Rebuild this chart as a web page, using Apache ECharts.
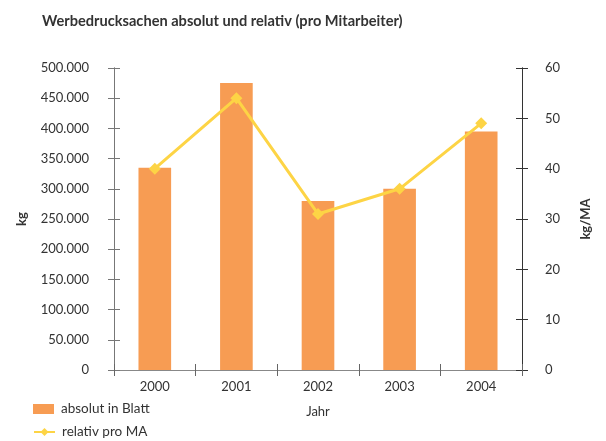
<!DOCTYPE html>
<html><head><meta charset="utf-8">
<script src="https://cdn.jsdelivr.net/npm/echarts@6/dist/echarts.min.js"></script>
<style>html,body{margin:0;padding:0;background:#fff}#c{width:606px;height:441px}</style>
</head><body><div id="c"></div>
<script>
const years = ['2000','2001','2002','2003','2004'];
const absolutValues = [335000, 475000, 280000, 300000, 395000];
const relativValues = [40, 54, 31, 36, 49];
const leftTicks = [0, 50000, 100000, 150000, 200000, 250000, 300000, 350000, 400000, 450000, 500000];
const rightTicks = [0, 10, 20, 30, 40, 50, 60];

const FONT = 'Lato';
const fmt = v => String(v).replace(/\B(?=(\d{3})+(?!\d))/g, '.');
const chart = echarts.init(document.getElementById('c'));
const baseY = (pos, max, interval, color, inside, extra) => Object.assign({
  type: 'value', position: pos, min: 0, max: max, interval: interval, offset: 0,
  axisLine: {show: true, lineStyle: {color: color, width: 1}},
  axisTick: {show: true, inside: inside, length: 6, lineStyle: {color: color}},
  splitLine: {show: false}
}, extra);
const legendBase = {orient: 'horizontal', left: 33, padding: 0, itemWidth: 21, itemHeight: 10, itemGap: 6,
  textStyle: {fontFamily: FONT, fontSize: 13.5, color: '#333', padding: [0, 0, 0, 2]}};
chart.setOption({
  animation: false,
  textStyle: {fontFamily: FONT},
  title: {text: 'Werbedrucksachen absolut und relativ (pro Mitarbeiter)', left: 37, top: 9,
    textStyle: {fontFamily: FONT, fontSize: 14.6, fontWeight: 'bold', color: '#333'}},
  grid: {left: 114, right: 84, top: 68, bottom: 71},
  legend: [
    Object.assign({}, legendBase, {top: 402, data: [{name: 'absolut in Blatt', icon: 'rect'}]}),
    Object.assign({}, legendBase, {top: 425, data: [{name: 'relativ pro MA'}]})
  ],
  xAxis: [{
    type: 'category', data: years, name: 'Jahr', nameLocation: 'middle', nameGap: 35,
    nameTextStyle: {fontFamily: FONT, fontSize: 13, color: '#333'},
    axisLine: {lineStyle: {color: '#888'}},
    axisTick: {show: true, length: 6, lineStyle: {color: '#666'}},
    axisLabel: {fontFamily: FONT, fontSize: 13, color: '#333', margin: 10}
  }, {
    type: 'category', data: years, position: 'bottom', offset: 0,
    axisLine: {show: false}, axisLabel: {show: false},
    axisTick: {show: true, inside: true, length: 6, lineStyle: {color: '#666'}}
  }],
  yAxis: [
    baseY('left', 500000, 50000, '#777', false, {
      name: 'kg', nameLocation: 'middle', nameGap: 86, nameRotate: 90,
      nameTextStyle: {fontFamily: FONT, fontSize: 13, fontWeight: 'bold', color: '#333'},
      axisLabel: {fontFamily: FONT, fontSize: 13, color: '#333', margin: 25, formatter: fmt}}),
    baseY('right', 60, 10, '#333', false, {
      name: 'kg/MA', nameLocation: 'middle', nameGap: 57, nameRotate: 90,
      nameTextStyle: {fontFamily: FONT, fontSize: 13, fontWeight: 'bold', color: '#333'},
      axisLabel: {fontFamily: FONT, fontSize: 13, color: '#333', margin: 23}}),
    baseY('left', 500000, 50000, '#777', true, {axisLabel: {show: false}}),
    baseY('right', 60, 10, '#333', true, {axisLabel: {show: false}})
  ],
  series: [{
    name: 'absolut in Blatt', type: 'bar', data: absolutValues, yAxisIndex: 0, barWidth: '40%',
    itemStyle: {color: '#F79C53'}
  }, {
    name: 'relativ pro MA', type: 'line', data: relativValues, yAxisIndex: 1,
    symbol: 'diamond', symbolSize: 12, lineStyle: {color: '#FDD445', width: 3},
    itemStyle: {color: '#FDD445'}
  }]
});
</script></body></html>
